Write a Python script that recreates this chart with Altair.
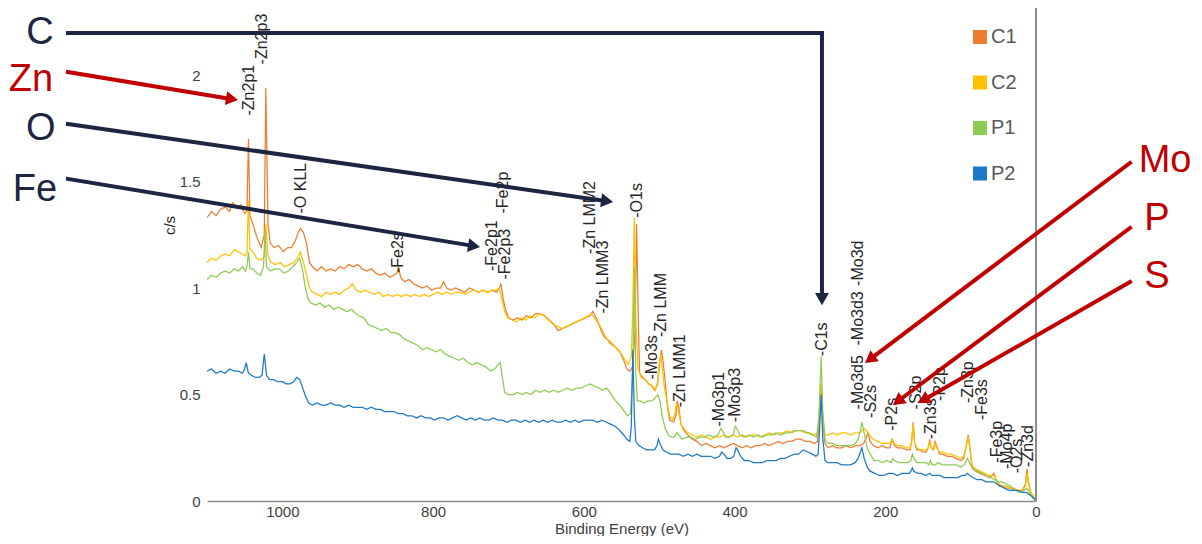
import altair as alt
import pandas as pd

# ---------------- spectra (binding energy in eV, intensity in c/s) ----------------
c1_energy = [
    1100, 1094, 1088, 1082, 1076, 1070, 1066, 1060, 1055, 1050,
    1047, 1045, 1043, 1039, 1034, 1028, 1024, 1022, 1019, 1016,
    1011, 1005, 999, 993, 988, 983, 979, 976, 972, 968,
    964, 960, 954, 948, 942, 936, 930, 924, 918, 912,
    906, 900, 894, 888, 882, 876, 870, 864, 858, 852,
    848, 846, 843, 838, 832, 826, 820, 814, 808, 802,
    796, 790, 786, 782, 776, 770, 764, 758, 752, 746,
    740, 734, 728, 722, 716, 712, 710, 707, 704, 700,
    694, 688, 682, 676, 670, 664, 658, 652, 646, 640,
    634, 628, 622, 616, 610, 604, 598, 592, 588, 585,
    581, 577, 573, 569, 565, 561, 557, 552, 547, 543,
    539, 535, 532, 530, 528, 526, 522, 518, 514, 510,
    506, 502, 499, 497, 495, 492, 489, 486, 481, 478,
    476, 474, 471, 467, 462, 456, 450, 444, 438, 432,
    426, 420, 414, 408, 402, 396, 390, 384, 378, 372,
    366, 360, 354, 348, 342, 336, 330, 324, 318, 312,
    306, 300, 294, 290, 287, 285, 283, 280, 276, 270,
    264, 258, 252, 246, 240, 234, 229, 226, 223, 220,
    216, 210, 204, 198, 194, 191, 188, 184, 178, 172,
    167, 165, 163, 161, 158, 154, 150, 146, 143, 141,
    139, 136, 134, 132, 128, 124, 118, 112, 106, 100,
    96, 93, 90, 88, 85, 80, 74, 68, 62, 58,
    56, 53, 49, 44, 39, 34, 29, 24, 18, 14,
    12, 10, 7, 3, 0,
]
c1_counts = [
    1.33, 1.36, 1.34, 1.37, 1.38, 1.36, 1.40, 1.38, 1.39, 1.35,
    1.36, 1.70, 1.34, 1.30, 1.24, 1.19, 1.25, 1.94, 1.30, 1.21,
    1.19, 1.20, 1.17, 1.19, 1.19, 1.22, 1.26, 1.28, 1.26, 1.21,
    1.12, 1.10, 1.08, 1.10, 1.08, 1.09, 1.08, 1.10, 1.09, 1.11,
    1.10, 1.11, 1.09, 1.08, 1.09, 1.07, 1.06, 1.07, 1.05, 1.06,
    1.07, 1.10, 1.05, 1.03, 1.04, 1.02, 1.01, 1.00, 1.01, 0.99,
    1.00, 1.00, 1.03, 1.00, 0.99, 1.00, 0.99, 0.98, 1.00, 0.99,
    0.98, 0.99, 0.98, 0.99, 0.98, 1.00, 1.02, 0.95, 0.90, 0.86,
    0.85, 0.86, 0.85, 0.87, 0.86, 0.88, 0.88, 0.87, 0.85, 0.83,
    0.80, 0.81, 0.82, 0.83, 0.84, 0.85, 0.86, 0.87, 0.89, 0.87,
    0.84, 0.80, 0.77, 0.76, 0.74, 0.73, 0.72, 0.70, 0.66, 0.62,
    0.61, 0.63, 0.80, 1.30, 0.90, 0.60, 0.58, 0.57, 0.55, 0.54,
    0.52, 0.55, 0.66, 0.71, 0.66, 0.56, 0.44, 0.38, 0.37, 0.40,
    0.47, 0.44, 0.36, 0.33, 0.31, 0.29, 0.28, 0.26, 0.27, 0.26,
    0.25, 0.26, 0.25, 0.26, 0.27, 0.26, 0.25, 0.26, 0.25, 0.26,
    0.26, 0.27, 0.26, 0.27, 0.28, 0.27, 0.28, 0.28, 0.29, 0.29,
    0.28, 0.28, 0.27, 0.28, 0.40, 0.54, 0.38, 0.27, 0.25, 0.26,
    0.25, 0.25, 0.26, 0.25, 0.26, 0.26, 0.27, 0.29, 0.32, 0.28,
    0.26, 0.25, 0.26, 0.25, 0.25, 0.29, 0.26, 0.25, 0.25, 0.24,
    0.24, 0.28, 0.37, 0.27, 0.24, 0.24, 0.23, 0.23, 0.25, 0.29,
    0.25, 0.24, 0.28, 0.26, 0.22, 0.22, 0.21, 0.21, 0.20, 0.19,
    0.20, 0.25, 0.31, 0.26, 0.16, 0.14, 0.13, 0.12, 0.11, 0.12,
    0.13, 0.10, 0.07, 0.07, 0.06, 0.06, 0.05, 0.05, 0.05, 0.08,
    0.15, 0.09, 0.04, 0.02, 0.00,
]

c2_energy = [
    1100, 1094, 1088, 1082, 1076, 1070, 1064, 1058, 1053, 1049,
    1047, 1045, 1043, 1039, 1034, 1028, 1024, 1022, 1019, 1015,
    1009, 1003, 997, 991, 985, 980, 976, 972, 968, 964,
    960, 954, 948, 942, 936, 930, 924, 918, 912, 907,
    902, 896, 890, 884, 878, 872, 866, 860, 854, 848,
    842, 836, 830, 824, 818, 812, 806, 800, 794, 788,
    782, 776, 770, 764, 758, 752, 746, 740, 734, 728,
    722, 716, 712, 709, 705, 701, 695, 689, 683, 677,
    671, 665, 659, 653, 647, 641, 635, 629, 623, 617,
    611, 605, 599, 594, 590, 586, 582, 578, 574, 569,
    565, 560, 555, 550, 545, 541, 537, 535, 533, 531,
    528, 524, 519, 514, 509, 505, 502, 500, 498, 496,
    493, 490, 486, 482, 479, 477, 475, 471, 467, 462,
    456, 450, 444, 438, 432, 426, 420, 414, 408, 402,
    396, 390, 384, 378, 372, 366, 360, 354, 348, 342,
    336, 330, 324, 318, 312, 306, 300, 294, 290, 287,
    285, 283, 280, 276, 270, 264, 258, 252, 246, 240,
    235, 231, 228, 225, 221, 216, 210, 204, 198, 194,
    191, 188, 184, 178, 172, 167, 165, 163, 161, 158,
    154, 150, 146, 143, 141, 139, 136, 134, 132, 128,
    124, 118, 112, 106, 100, 96, 93, 90, 88, 85,
    80, 74, 68, 62, 58, 56, 53, 49, 44, 39,
    34, 29, 24, 18, 14, 12, 10, 7, 3, 0,
]
c2_counts = [
    1.12, 1.14, 1.13, 1.15, 1.16, 1.15, 1.18, 1.17, 1.16, 1.15,
    1.17, 1.41, 1.18, 1.17, 1.14, 1.13, 1.15, 1.30, 1.15, 1.12,
    1.11, 1.12, 1.10, 1.11, 1.12, 1.14, 1.17, 1.12, 1.06, 1.00,
    0.98, 0.97, 0.96, 0.98, 0.97, 0.98, 0.97, 0.99, 1.00, 1.02,
    0.99, 0.98, 0.99, 0.98, 0.97, 0.98, 0.96, 0.97, 0.96, 0.97,
    0.96, 0.97, 0.96, 0.97, 0.96, 0.97, 0.96, 0.97, 0.98, 0.97,
    0.98, 0.97, 0.98, 0.98, 0.97, 0.98, 0.99, 0.98, 0.99, 0.98,
    0.99, 0.99, 1.00, 0.95, 0.89, 0.86, 0.85, 0.84, 0.86, 0.85,
    0.87, 0.86, 0.88, 0.87, 0.85, 0.83, 0.82, 0.81, 0.82, 0.83,
    0.84, 0.85, 0.86, 0.87, 0.88, 0.86, 0.84, 0.82, 0.79, 0.76,
    0.75, 0.73, 0.71, 0.69, 0.66, 0.64, 0.68, 0.90, 1.33, 0.85,
    0.62, 0.58, 0.57, 0.55, 0.54, 0.52, 0.56, 0.64, 0.69, 0.63,
    0.53, 0.47, 0.40, 0.38, 0.41, 0.46, 0.43, 0.36, 0.34, 0.32,
    0.31, 0.30, 0.31, 0.30, 0.29, 0.30, 0.30, 0.31, 0.30, 0.31,
    0.30, 0.31, 0.30, 0.31, 0.31, 0.30, 0.31, 0.32, 0.31, 0.32,
    0.32, 0.33, 0.32, 0.33, 0.33, 0.32, 0.32, 0.31, 0.32, 0.42,
    0.55, 0.40, 0.31, 0.31, 0.32, 0.31, 0.32, 0.32, 0.31, 0.32,
    0.32, 0.33, 0.34, 0.33, 0.31, 0.29, 0.28, 0.27, 0.27, 0.27,
    0.29, 0.27, 0.26, 0.26, 0.25, 0.25, 0.28, 0.36, 0.27, 0.25,
    0.24, 0.24, 0.24, 0.25, 0.28, 0.25, 0.24, 0.27, 0.25, 0.23,
    0.23, 0.22, 0.22, 0.21, 0.20, 0.21, 0.25, 0.30, 0.25, 0.17,
    0.15, 0.14, 0.13, 0.12, 0.12, 0.12, 0.10, 0.08, 0.07, 0.07,
    0.06, 0.06, 0.05, 0.05, 0.07, 0.13, 0.08, 0.04, 0.02, 0.00,
]

p1_energy = [
    1100, 1094, 1088, 1082, 1076, 1070, 1064, 1058, 1053, 1049,
    1047, 1045, 1043, 1039, 1034, 1029, 1025, 1023, 1021, 1016,
    1010, 1004, 998, 992, 986, 981, 977, 973, 970, 966,
    962, 956, 950, 944, 938, 932, 926, 920, 914, 908,
    903, 898, 892, 886, 880, 874, 868, 862, 856, 850,
    844, 838, 832, 826, 820, 814, 808, 802, 796, 790,
    784, 778, 772, 766, 760, 754, 748, 742, 736, 730,
    724, 718, 714, 711, 708, 705, 700, 694, 688, 682,
    676, 670, 664, 658, 652, 646, 640, 634, 628, 622,
    616, 610, 604, 598, 592, 586, 580, 575, 570, 565,
    560, 555, 550, 546, 542, 538, 535, 533, 531, 529,
    525, 520, 515, 510, 506, 502, 499, 496, 492, 488,
    484, 480, 477, 474, 470, 464, 458, 452, 446, 440,
    434, 428, 422, 418, 416, 412, 406, 402, 399, 397,
    393, 387, 381, 375, 369, 363, 357, 351, 345, 339,
    333, 327, 321, 315, 309, 303, 297, 291, 288, 285,
    283, 280, 276, 270, 264, 258, 252, 246, 240, 236,
    233, 231, 228, 224, 220, 215, 210, 204, 198, 192,
    190, 188, 182, 176, 170, 166, 164, 162, 158, 152,
    146, 142, 140, 138, 134, 130, 124, 118, 112, 106,
    100, 95, 91, 88, 84, 78, 72, 66, 60, 55,
    50, 45, 40, 34, 28, 22, 16, 12, 9, 5,
    0,
]
p1_counts = [
    1.04, 1.06, 1.05, 1.07, 1.08, 1.07, 1.09, 1.08, 1.10, 1.08,
    1.10, 1.17, 1.09, 1.09, 1.07, 1.06, 1.10, 1.26, 1.10, 1.08,
    1.09, 1.09, 1.07, 1.08, 1.10, 1.12, 1.14, 1.08, 1.01, 0.95,
    0.93, 0.92, 0.93, 0.91, 0.92, 0.90, 0.91, 0.90, 0.89, 0.90,
    0.88, 0.87, 0.86, 0.83, 0.82, 0.81, 0.80, 0.81, 0.79, 0.79,
    0.78, 0.76, 0.75, 0.74, 0.73, 0.71, 0.72, 0.71, 0.70, 0.71,
    0.69, 0.68, 0.67, 0.66, 0.67, 0.65, 0.64, 0.65, 0.64, 0.63,
    0.61, 0.62, 0.64, 0.65, 0.58, 0.51, 0.50, 0.50, 0.51, 0.50,
    0.51, 0.50, 0.52, 0.51, 0.52, 0.51, 0.52, 0.51, 0.52, 0.53,
    0.52, 0.53, 0.53, 0.54, 0.55, 0.54, 0.53, 0.52, 0.53, 0.51,
    0.48, 0.46, 0.44, 0.42, 0.40, 0.41, 0.60, 1.10, 0.60, 0.47,
    0.47, 0.46, 0.47, 0.47, 0.48, 0.50, 0.47, 0.40, 0.34, 0.31,
    0.30, 0.30, 0.32, 0.31, 0.29, 0.30, 0.30, 0.29, 0.30, 0.30,
    0.31, 0.30, 0.31, 0.34, 0.33, 0.30, 0.30, 0.31, 0.35, 0.34,
    0.31, 0.30, 0.31, 0.30, 0.31, 0.30, 0.31, 0.31, 0.32, 0.31,
    0.32, 0.32, 0.33, 0.33, 0.33, 0.32, 0.31, 0.30, 0.40, 0.68,
    0.42, 0.29, 0.27, 0.27, 0.26, 0.26, 0.26, 0.26, 0.27, 0.29,
    0.33, 0.37, 0.32, 0.25, 0.22, 0.19, 0.19, 0.18, 0.19, 0.18,
    0.20, 0.19, 0.18, 0.18, 0.18, 0.19, 0.22, 0.20, 0.18, 0.18,
    0.18, 0.17, 0.19, 0.17, 0.17, 0.18, 0.17, 0.17, 0.17, 0.17,
    0.16, 0.17, 0.20, 0.18, 0.15, 0.14, 0.13, 0.12, 0.11, 0.10,
    0.09, 0.09, 0.08, 0.07, 0.05, 0.04, 0.05, 0.06, 0.04, 0.02,
    0.00,
]

p2_energy = [
    1100, 1094, 1088, 1082, 1076, 1070, 1064, 1058, 1053, 1050,
    1048, 1045, 1041, 1036, 1031, 1027, 1024, 1021, 1017, 1012,
    1006, 1000, 995, 990, 985, 981, 977, 973, 969, 965,
    960, 954, 948, 942, 936, 930, 924, 918, 912, 906,
    900, 894, 888, 882, 876, 870, 864, 858, 852, 846,
    840, 834, 828, 822, 816, 810, 804, 798, 792, 786,
    780, 774, 768, 762, 756, 750, 744, 738, 732, 726,
    720, 714, 708, 702, 696, 690, 684, 678, 672, 666,
    660, 654, 648, 642, 636, 630, 624, 618, 612, 606,
    600, 594, 588, 582, 576, 570, 564, 558, 552, 547,
    543, 539, 537, 535, 533, 531, 527, 522, 517, 512,
    506, 503, 501, 499, 495, 491, 485, 479, 474, 468,
    462, 456, 450, 444, 438, 432, 426, 420, 417, 414,
    410, 405, 401, 398, 396, 392, 387, 381, 375, 369,
    363, 357, 351, 345, 339, 333, 327, 321, 315, 309,
    303, 297, 292, 289, 287, 285, 283, 280, 276, 270,
    264, 258, 252, 246, 240, 236, 233, 231, 228, 224,
    220, 214, 208, 202, 196, 190, 184, 178, 172, 168,
    166, 164, 162, 157, 152, 146, 141, 138, 134, 128,
    122, 116, 110, 104, 98, 94, 91, 88, 84, 78,
    72, 66, 60, 56, 52, 47, 42, 36, 30, 24,
    18, 13, 9, 5, 0,
]
p2_counts = [
    0.61, 0.62, 0.60, 0.61, 0.60, 0.62, 0.61, 0.61, 0.60, 0.62,
    0.65, 0.60, 0.59, 0.58, 0.58, 0.59, 0.69, 0.59, 0.57, 0.57,
    0.56, 0.56, 0.55, 0.55, 0.56, 0.58, 0.57, 0.53, 0.49, 0.46,
    0.45, 0.46, 0.45, 0.45, 0.46, 0.45, 0.45, 0.44, 0.45, 0.44,
    0.44, 0.44, 0.43, 0.44, 0.43, 0.43, 0.42, 0.42, 0.42, 0.41,
    0.41, 0.40, 0.40, 0.39, 0.40, 0.39, 0.39, 0.38, 0.39, 0.39,
    0.38, 0.39, 0.40, 0.39, 0.38, 0.39, 0.38, 0.39, 0.38, 0.38,
    0.39, 0.38, 0.38, 0.37, 0.38, 0.38, 0.37, 0.38, 0.37, 0.38,
    0.37, 0.38, 0.37, 0.38, 0.37, 0.37, 0.38, 0.37, 0.38, 0.37,
    0.38, 0.38, 0.38, 0.37, 0.38, 0.37, 0.36, 0.35, 0.33, 0.31,
    0.29, 0.28, 0.35, 0.71, 0.40, 0.28, 0.26, 0.25, 0.24, 0.24,
    0.24, 0.26, 0.29, 0.27, 0.24, 0.23, 0.22, 0.22, 0.22, 0.21,
    0.22, 0.21, 0.22, 0.21, 0.21, 0.21, 0.20, 0.21, 0.23, 0.22,
    0.20, 0.20, 0.21, 0.25, 0.24, 0.21, 0.19, 0.19, 0.18, 0.18,
    0.18, 0.19, 0.19, 0.19, 0.20, 0.20, 0.21, 0.22, 0.22, 0.24,
    0.23, 0.22, 0.21, 0.22, 0.35, 0.50, 0.30, 0.19, 0.18, 0.18,
    0.18, 0.17, 0.17, 0.17, 0.18, 0.20, 0.23, 0.25, 0.20, 0.16,
    0.14, 0.13, 0.12, 0.12, 0.13, 0.13, 0.12, 0.13, 0.13, 0.13,
    0.14, 0.155, 0.14, 0.13, 0.13, 0.12, 0.13, 0.12, 0.12, 0.12,
    0.11, 0.11, 0.11, 0.11, 0.12, 0.12, 0.13, 0.12, 0.11, 0.10,
    0.10, 0.09, 0.09, 0.09, 0.08, 0.07, 0.06, 0.05, 0.05, 0.05,
    0.04, 0.04, 0.03, 0.02, 0.00,
]

series_names = ["C1", "C2", "P1", "P2"]
series_colors = ["#ED7D31", "#FFC000", "#8DCB55", "#1F78C8"]

# ---------------- peak assignments (label, energy, bottom of label in c/s) ----------------
peak_names = [
    "-Zn2p1", "-Zn2p3", "-O KLL", "-Fe2s", "-Fe2p", "-Fe2p1", "-Fe2p3",
    "-Zn LMM2", "-Zn LMM3", "-O1s", "-Mo3s", "-Zn LMM", "-Zn LMM1",
    "-Mo3p1", "-Mo3p3", "-C1s", "-Mo3d3", "-Mo3d", "-Mo3d5", "-S2s",
    "-P2s", "-S2p", "-Zn3s", "-P2p", "-Zn3p", "-Fe3s", "-Fe3p",
    "-Mo4p", "-O2s", "-Zn3d",
]
peak_energy = [
    1044, 1027, 975, 846, 707, 722, 705,
    592, 575, 530, 509, 497, 473,
    420, 400, 284, 236, 236, 236, 219,
    191, 159, 139, 127, 90, 72, 52,
    39, 25, 11,
]
peak_level = [
    1.81, 2.05, 1.35, 1.07, 1.35, 1.08, 1.04,
    1.16, 0.88, 1.33, 0.57, 0.77, 0.44,
    0.35, 0.37, 0.68, 0.73, 1.01, 0.43, 0.39,
    0.33, 0.43, 0.29, 0.47, 0.46, 0.38, 0.18,
    0.15, 0.13, 0.16,
]

# ---------------- element call-outs ----------------
element_names = ["C", "Zn", "O", "Fe", "Mo", "P", "S"]
element_energy = [1321.7, 1333.6, 1320.4, 1328.3, -171.2, -160.6, -160.6]
element_level = [2.197, 1.977, 1.746, 1.460, 1.596, 1.324, 1.052]
element_colors = ["#1C2541", "#C00000", "#1C2541", "#1C2541", "#C00000", "#C00000", "#C00000"]

arrow_e1 = [1284.5, 284.0, 1284.5, 1284.5, 1284.5, -124.7, -124.7, -124.7]
arrow_v1 = [2.197, 2.197, 2.014, 1.770, 1.512, 1.587, 1.282, 1.028]
arrow_e2 = [284.0, 284.0, 1066.8, 569.1, 745.6, 220.5, 183.4, 149.3]
arrow_v2 = [2.197, 0.948, 1.887, 1.408, 1.197, 0.665, 0.468, 0.474]
arrow_colors = ["#1C2541", "#1C2541", "#C00000", "#1C2541", "#1C2541", "#C00000", "#C00000", "#C00000"]

head_energy = [284.0, 1066.8, 569.1, 745.6, 220.5, 183.4, 149.3]
head_level = [0.948, 1.887, 1.408, 1.197, 0.665, 0.468, 0.474]
head_angle = [180, 99.4, 98.1, 99.4, 233.0, 233.3, 240.3]
head_colors = ["#1C2541", "#C00000", "#1C2541", "#1C2541", "#C00000", "#C00000", "#C00000"]

x_ticks = [0, 200, 400, 600, 800, 1000]
y_ticks = [0, 0.5, 1, 1.5, 2]

# ---------------- build tables ----------------
rows = []
for name, es, vs in zip(series_names,
                        [c1_energy, c2_energy, p1_energy, p2_energy],
                        [c1_counts, c2_counts, p1_counts, p2_counts]):
    assert len(es) == len(vs), name
    for i, (e, v) in enumerate(zip(es, vs)):
        rows.append({"series": name, "energy": e, "cps": v, "idx": i})
spectra = pd.DataFrame(rows)

peaks = pd.DataFrame({"label": peak_names, "energy": peak_energy, "cps": peak_level})
elements = pd.DataFrame({"label": element_names, "energy": element_energy,
                         "cps": element_level, "col": element_colors})
arrows = pd.DataFrame({"energy": arrow_e1, "cps": arrow_v1, "e2": arrow_e2,
                       "v2": arrow_v2, "col": arrow_colors})
heads = pd.DataFrame({"energy": head_energy, "cps": head_level,
                      "angle": head_angle, "col": head_colors})

x_scale = alt.Scale(domain=[0, 1100], reverse=True, nice=False, zero=False)
y_scale = alt.Scale(domain=[0, 2.296], nice=False, zero=False)

x_axis = alt.Axis(values=x_ticks, format="d")
y_axis = alt.Axis(values=y_ticks, format="~g")

X = alt.X("energy:Q", scale=x_scale, axis=x_axis, title="Binding Energy (eV)")
Y = alt.Y("cps:Q", scale=y_scale, axis=y_axis, title="c/s")

lines = alt.Chart(spectra).mark_line(clip=True).encode(
    x=X,
    y=Y,
    color=alt.Color("series:N",
                    scale=alt.Scale(domain=series_names, range=series_colors),
                    legend=alt.Legend(title=None, orient="none", legendX=763, legendY=15,
                                      symbolType="square", symbolSize=49,
                                      symbolStrokeWidth=7, labelFont="Liberation Sans",
                                      labelFontSize=20, labelColor="#595959",
                                      rowPadding=9.5, labelOffset=1)),
    order=alt.Order("idx:Q"),
    strokeWidth=alt.value(1.25),
)

zero_rule = alt.Chart(peaks).mark_rule(color="#8C8C8C", strokeWidth=1.5).encode(
    x=alt.datum(0),
    y=alt.datum(0),
    y2=alt.datum(2.315),
)

peak_text = alt.Chart(peaks).mark_text(
    angle=270, align="left", baseline="middle", font="Liberation Sans",
    fontSize=16, color="#262626",
).encode(x=X, y=Y, text="label:N")

arrow_lines = alt.Chart(arrows).mark_rule(strokeWidth=4, strokeCap="square").encode(
    x=X,
    y=Y,
    x2="e2:Q",
    y2="v2:Q",
    stroke=alt.Stroke("col:N", scale=None),
)

arrow_heads = alt.Chart(heads).mark_point(shape="triangle-up", filled=True, size=196,
                                          opacity=1).encode(
    x=X,
    y=Y,
    angle=alt.Angle("angle:Q", scale=None),
    fill=alt.Fill("col:N", scale=None),
)

element_text = alt.Chart(elements).mark_text(
    align="center", baseline="middle", font="Liberation Sans", fontSize=38,
).encode(
    x=X,
    y=Y,
    text="label:N",
    fill=alt.Fill("col:N", scale=None),
)

chart = alt.layer(
    lines, zero_rule, peak_text, arrow_lines, arrow_heads, element_text
).properties(
    width=829, height=489,
    autosize=alt.AutoSizeParams(type="none"),
    padding={"left": 199, "top": 4, "right": 158, "bottom": 35},
    background="white",
).configure_view(
    strokeWidth=0
).configure_axisX(
    grid=False, ticks=False, domainColor="#8C8C8C", domainWidth=1.5,
    labelFont="Liberation Sans", labelFontSize=15, labelColor="#404040",
    labelPadding=3, labelFlush=False,
    titleFont="Liberation Sans", titleFontSize=15, titleFontWeight="normal",
    titleColor="#404040", titleY=32, titleBaseline="alphabetic",
).configure_axisY(
    grid=False, ticks=False, domain=False,
    labelFont="Liberation Sans", labelFontSize=15, labelColor="#404040",
    labelPadding=7, labelFlush=False,
    titleFont="Liberation Sans", titleFontSize=15, titleFontWeight="normal",
    titleColor="#262626", titleAngle=270, titleX=-38, titleY=213,
    titleAlign="center", titleBaseline="middle",
)

chart.save("out.html", embed_options={"renderer": "svg", "actions": False})
